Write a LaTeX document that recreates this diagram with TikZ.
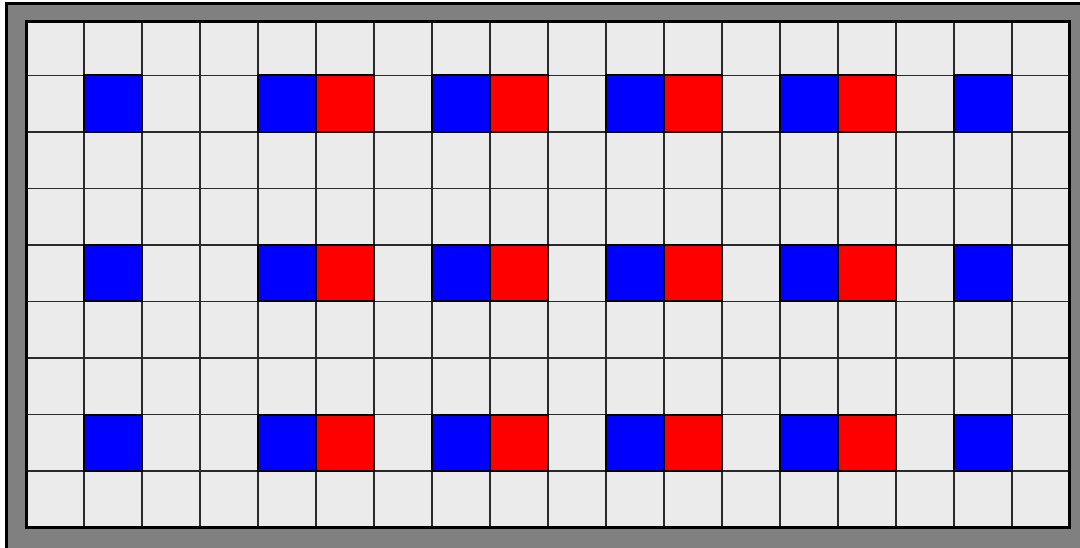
\documentclass[tikz,border=0pt]{standalone}
\definecolor{floor}{HTML}{EBEBEB}
\definecolor{rim}{HTML}{808080}
\definecolor{gridline}{HTML}{2A2A2A}
\begin{document}
\begin{tikzpicture}[
    x={(1pt,0pt)},
    y={(0pt,-1pt)},
    line join=miter,
    cell/.style={draw=gridline,line width=1.4pt,fill=floor},
    bluecell/.style={draw=black,line width=2pt,fill=blue},
    redcell/.style={draw=black,line width=2pt,fill=red},
    rimline/.style={line width=3pt}
]

% =========================================================
% Parameters
% =========================================================

\def\xo{26}       % left edge of the cells
\def\xe{1069.5}   % right edge of the field
\def\yt{21.5}     % top edge of the field
\def\ye{527.5}    % bottom edge of the field
\def\cw{58}       % cell width
\def\ch{56.5}     % cell height
\pgfmathsetmacro{\yo}{\ye-9*\ch}   % top edge of the cells

\useasboundingbox (0,0) rectangle (1080,548);

% =========================================================
% Outer rim
% =========================================================

\fill[white] (0,0) rectangle (1080,548);
\fill[rim] (6.5,4) rectangle (1080,548);
\draw[rimline] (6.5,548) -- (6.5,4) -- (1080,4);

% =========================================================
% Floor cells
% =========================================================

\begin{scope}
\clip (\xo,\yt) rectangle (\xe,\ye);
\foreach \i in {0,...,17}
    \foreach \j in {0,...,8}
        \draw[cell] ({\xo+\i*\cw},{\yo+\j*\ch}) rectangle ++(\cw,\ch);
\end{scope}

% =========================================================
% Blue and red cells
% =========================================================

\foreach \j in {1,4,7} {
    \foreach \i in {1,4,7,10,13,16}
        \draw[bluecell] ({\xo+\i*\cw},{\yo+\j*\ch}) rectangle ++(\cw,\ch);
    \foreach \i in {5,8,11,14}
        \draw[redcell] ({\xo+\i*\cw},{\yo+\j*\ch}) rectangle ++(\cw,\ch);
}

% =========================================================
% Inner frame
% =========================================================

\draw[rimline] (\xo,\yt) rectangle (\xe,\ye);

\end{tikzpicture}
\end{document}
